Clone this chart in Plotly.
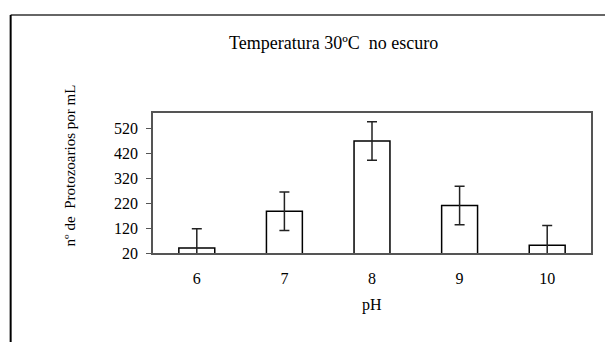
import plotly.graph_objects as go

ph = ["6", "7", "8", "9", "10"]
counts = [40, 187, 468, 210, 51]
errors = [77, 77, 77, 77, 79]
y_ticks = [20, 120, 220, 320, 420, 520]

W, H = 605, 342
L, R, T, B = 153, 12, 113, 89
pw, ph_ = W - L - R, H - T - B

def px(x):
    return (x - L) / pw

def py(y):
    return (H - B - y) / ph_

serif = "Liberation Serif, Times New Roman, serif"

fig = go.Figure()
fig.add_trace(go.Bar(
    x=ph, y=counts,
    marker=dict(color="white", line=dict(color="black", width=1.5)),
    width=0.41,
    error_y=dict(type="data", array=errors, visible=True, color="#222222",
                 thickness=1.5, width=5),
))

fig.update_layout(
    width=W, height=H,
    margin=dict(l=L, r=R, t=T, b=B, pad=0),
    paper_bgcolor="white", plot_bgcolor="white",
    showlegend=False,
    font=dict(family=serif, size=16, color="black"),
    xaxis=dict(showline=True, linecolor="#555555", linewidth=1.5, mirror=True,
               ticks="", showgrid=False, ticklabelstandoff=10,
               tickfont=dict(size=16)),
    yaxis=dict(range=[20, 580], tickvals=y_ticks, showline=True,
               linecolor="#555555", linewidth=1.5, mirror=True,
               ticks="outside", ticklen=5, tickcolor="#555555",
               showgrid=False, zeroline=False, tickfont=dict(size=16),
               ticklabelstandoff=5),
    shapes=[
        dict(type="line", xref="paper", yref="paper", x0=px(10), x1=px(620),
             y0=py(15), y1=py(15), line=dict(color="#666666", width=2)),
        dict(type="line", xref="paper", yref="paper", x0=px(10), x1=px(10),
             y0=py(15), y1=py(360), line=dict(color="black", width=2)),
    ],
    annotations=[
        dict(text="Temperatura 30ºC  no escuro", xref="paper", yref="paper",
             x=px(334), y=py(43), showarrow=False, font=dict(size=18),
             xanchor="center", yanchor="middle"),
        dict(text="nº de  Protozoarios por mL", xref="paper", yref="paper",
             x=px(70), y=py(165), showarrow=False, textangle=-90,
             font=dict(size=15), xanchor="center", yanchor="middle"),
        dict(text="pH", xref="paper", yref="paper",
             x=px(373), y=py(305), showarrow=False, font=dict(size=16),
             xanchor="center", yanchor="middle"),
    ],
)

fig.write_html("out.html")
